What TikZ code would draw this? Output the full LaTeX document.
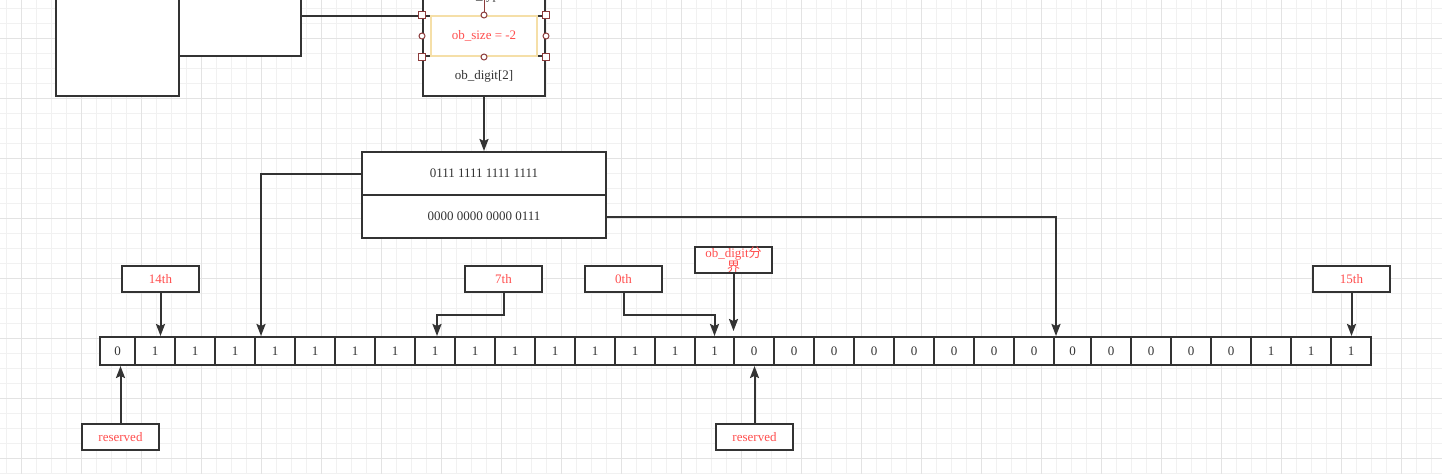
\documentclass[tikz,border=0pt]{standalone}
\usepackage{fontspec}
\setmainfont{Liberation Serif}
\newfontfamily\cjk{Noto Sans CJK SC}
\usetikzlibrary{arrows.meta,calc}
\definecolor{ink}{HTML}{333333}
\definecolor{redtxt}{HTML}{FF4F4F}
\definecolor{gridminor}{HTML}{F1F1F1}
\definecolor{gridmajor}{HTML}{E3E3E3}
\definecolor{selyellow}{HTML}{F5DFA8}
\definecolor{handle}{HTML}{8C3C3C}

\begin{document}
\begin{tikzpicture}[x=1pt,y=-1pt,font=\fontsize{13}{14}\selectfont,
  box/.style={draw=ink,line width=2pt,fill=white,inner sep=0pt,text=ink},
  lbl/.style={box,minimum width=77pt,minimum height=26pt,text=redtxt},
  bit/.style={box,minimum height=28pt},
  conn/.style={draw=ink,line width=2pt},
  arr/.style={conn,-{Stealth[length=12pt,width=9pt,inset=2pt]}},
  hsq/.style={draw=handle,fill=white,line width=1pt,minimum size=7pt,inner sep=0pt,outer sep=0pt},
  hci/.style={hsq,circle,minimum size=6pt}]
\useasboundingbox (0,0) rectangle (1442,474);
\fill[white] (0,0) rectangle (1442,474);

% grid
\foreach \x in {6,21,...,1441} \draw[gridminor,line width=1pt] (\x,0) -- (\x,474);
\foreach \y in {8,23,...,473} \draw[gridminor,line width=1pt] (0,\y) -- (1442,\y);
\foreach \x in {21,81,...,1441} \draw[gridmajor,line width=1pt] (\x,0) -- (\x,474);
\foreach \y in {38,98,...,458} \draw[gridmajor,line width=1pt] (0,\y) -- (1442,\y);

% type object, cut at the top
\node[box,minimum width=123pt,minimum height=160pt] (tp) at (117.5,16) {};
\node[box,minimum width=122pt,minimum height=80pt] (tpslot) at (240,16) {};

% long object
\node[box,minimum width=122pt,minimum height=40pt] (ltype) at (484,-4) {ob\_type};
\node[box,minimum width=122pt,minimum height=40pt,text=redtxt] (lsize) at (484,36) {ob\_size = -2};
\node[box,minimum width=122pt,minimum height=40pt] (ldigit) at (484,76) {ob\_digit[2]};
\draw[conn] (tpslot.east) -- (tpslot.east -| ltype.west);

% selected cell
\draw[selyellow,line width=1.5pt] ($(lsize.north west)+(9,1)$) rectangle ($(lsize.south east)+(-9,-1)$);
\draw[handle,line width=1pt] (lsize.north) -- ++(0,-16);
\foreach \a [count=\k] in {north west,north east,south west,south east}
  \node[hsq] (hs\k) at (lsize.\a) {};
\foreach \a [count=\k] in {north,south,west,east}
  \node[hci] (hc\k) at (lsize.\a) {};

% ob_digit values
\node[box,minimum width=244pt,minimum height=43pt] (v1) at (484,173.5) {0111 1111 1111 1111};
\node[box,minimum width=244pt,minimum height=43pt] (v2) at (484,216.5) {0000 0000 0000 0111};
\draw[arr] (ldigit.south) -- (v1.north);

% bits
\foreach \l/\r/\v [count=\i from 0] in {100/135/0,135/175/1,175/215/1,215/255/1,255/295/1,
    295/335/1,335/375/1,375/415/1,415/455/1,455/495/1,495/535/1,535/575/1,575/615/1,
    615/655/1,655/695/1,695/734/1,734/774/0,774/814/0,814/854/0,854/894/0,894/934/0,
    934/974/0,974/1014/0,1014/1054/0,1054/1091/0,1091/1131/0,1131/1171/0,1171/1211/0,
    1211/1251/0,1251/1291/1,1291/1331/1,1331/1371/1}{
  \pgfmathsetmacro\w{\r-\l}
  \node[bit,minimum width=\w pt] (b\i) at ({(\l+\r)/2},351) {\v};
}

% labels
\node[lbl] (l14) at (160.5,279) {14th};
\node[lbl] (l7) at (503.5,279) {7th};
\node[lbl] (l0) at (623.5,279) {0th};
\node[lbl,label={[text=redtxt,align=center]center:{ob\_digit{\cjk 分}\\{\cjk 界}}}] (lsep) at (733.5,260) {};
\node[lbl] (l15) at (1351.5,279) {15th};
\node[lbl] (res1) at (120.5,437) {reserved};
\node[lbl] (res2) at (754.5,437) {reserved};

% connectors
\draw[arr] (v1.west) -| ($(b4.north west)+(7,0)$);
\draw[arr] (v2.east) -| ($(b24.north west)+(3,0)$);
\draw[arr] (l14.south) -- (l14.south |- b1.north);
\draw[arr] (l7.south) -- ++(0,22) -| ($(b8.north)+(2,0)$);
\draw[arr] (l0.south) -- ++(0,22) -| (b15.north);
\draw[arr] (lsep.south) -- ($(lsep.south |- b16.north)+(0,-5)$);
\draw[arr] (l15.south) -- (l15.south |- b31.north);
\draw[arr] (res1.north) -- (res1.north |- b0.south);
\draw[arr] (res2.north) -- (res2.north |- b16.south);
\end{tikzpicture}
\end{document}
